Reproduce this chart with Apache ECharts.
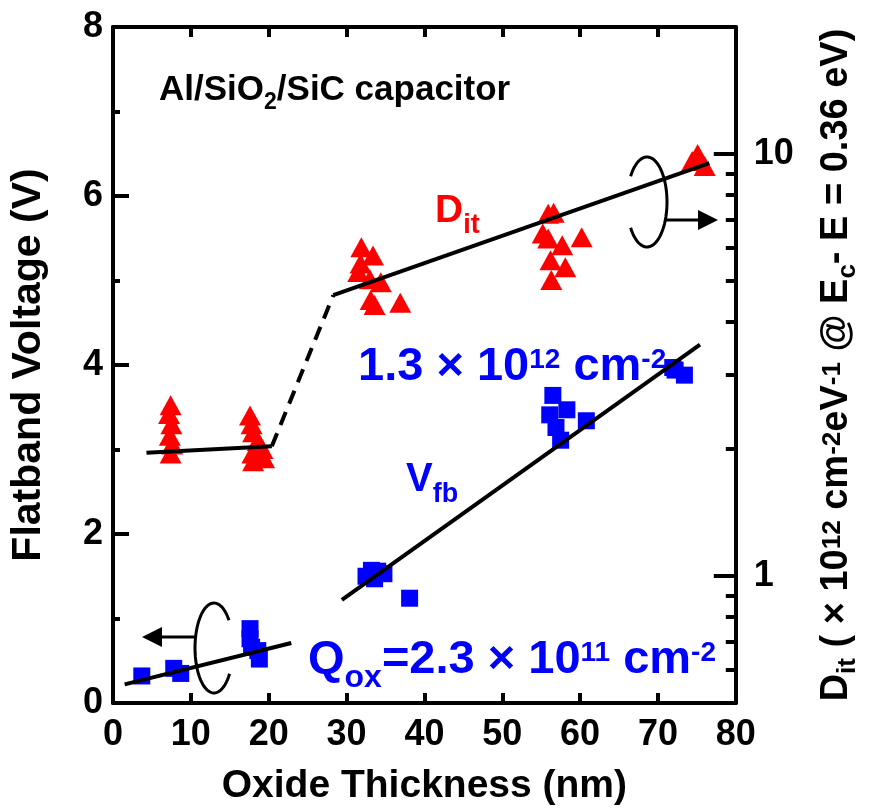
<!DOCTYPE html>
<html>
<head>
<meta charset="utf-8">
<script src="https://cdn.jsdelivr.net/npm/echarts@6/dist/echarts.min.js"></script>
<style>
  html, body { margin: 0; padding: 0; background: #fff; }
  #chart { width: 869px; height: 811px; }
</style>
</head>
<body>
<div id="chart"></div>
<script>
// Oxide thickness (nm) and interface-state density D_it (x1e12 cm^-2 eV^-1)
const ditThickness = [7.4, 7.2, 7.5, 7.3, 7.6, 7.4,
  17.6, 17.8, 18.0, 18.6, 19.2, 17.9, 19.4, 18.0,
  31.9, 33.4, 31.5, 34.4, 33.1, 33.6, 36.9, 31.8, 33.0,
  55.9, 56.6, 55.2, 55.9, 57.7, 60.2, 56.2, 58.1, 56.3,
  75.1, 74.4, 76.0];
const ditValues = [2.54, 2.42, 2.29, 2.15, 2.05, 1.95,
  2.40, 2.29, 2.19, 2.09, 2.00, 1.95, 1.90, 1.87,
  6.01, 5.75, 5.25, 4.97, 4.51, 4.39, 4.44, 5.50, 5.05,
  7.22, 7.26, 6.48, 6.31, 6.08, 6.35, 5.60, 5.39, 5.03,
  10.0, 9.63, 9.37];

// Oxide thickness (nm) and flatband voltage (V)
const vfbThickness = [3.7, 7.8, 8.7,
  17.6, 17.6, 17.8, 18.6, 18.8,
  32.5, 33.2, 34.0, 34.8, 33.6, 38.1,
  56.5, 56.1, 58.3, 60.8, 57.5, 56.9,
  72.2, 73.4, 71.9];
const vfbValues = [0.32, 0.41, 0.35,
  0.88, 0.76, 0.66, 0.62, 0.52,
  1.50, 1.57, 1.56, 1.53, 1.47, 1.24,
  3.64, 3.41, 3.47, 3.34, 3.11, 3.26,
  3.94, 3.88, 3.97];

// Fitted trend lines (end points)
const ditFitThinX = [4.3, 20.4];
const ditFitThinY = [1.96, 2.03];
const ditFitBridgeX = [20.4, 28.3];
const ditFitBridgeY = [2.03, 4.63];
const ditFitThickX = [28.3, 76.6];
const ditFitThickY = [4.63, 9.52];
const vfbFitThinX = [1.5, 22.9];
const vfbFitThinY = [0.22, 0.71];
const vfbFitThickX = [29.4, 75.4];
const vfbFitThickY = [1.22, 4.24];

// Axis ticks
const xTickInterval = 10;
const vfbTickInterval = 2;
const ditMajorTicks = [1, 10];
const ditMinorTicks = [0.6, 0.7, 0.8, 0.9, 2, 3, 4, 5, 6, 7, 8, 9];

const FONT = '"Liberation Sans", Arial, Helvetica, sans-serif';
const RED = '#ff0000';
const BLUE = '#0000ff';

const pairs = (xs, ys) => xs.map((x, i) => [x, ys[i]]);

// Rich-text styles: tokens are top-aligned, top padding shifts sub/superscripts.
// colorKey is 'fill' for graphic elements and 'color' for axis names.
function richSet(F, color, colorKey, subSize, subDrop, supSize) {
  const base = { fontFamily: FONT, fontWeight: 'bold', verticalAlign: 'top' };
  base[colorKey] = color;
  return {
    n: Object.assign({}, base, { fontSize: F }),
    sub: Object.assign({}, base, { fontSize: subSize,
      padding: [0.85 * (F - subSize) + subDrop, 0, 0, 0] }),
    sup: Object.assign({}, base, { fontSize: supSize,
      padding: [0.134 * (F - supSize), 0, 0, 0] })
  };
}

const chart = echarts.init(document.getElementById('chart'), null, { renderer: 'canvas' });

const axisLine = { show: true, onZero: false, lineStyle: { color: '#000', width: 4 } };
const labelStyle = { color: '#000', fontFamily: FONT, fontWeight: 'bold', fontSize: 36 };
const nameStyle = { color: '#000', fontFamily: FONT, fontWeight: 'bold', fontSize: 40 };

function ellipsePoints(cx, cy, rx, ry, a0, a1) {
  const pts = [];
  for (let k = 0; k <= 60; k++) {
    const a = (a0 + (a1 - a0) * k / 60) * Math.PI / 180;
    pts.push([cx + rx * Math.cos(a), cy + ry * Math.sin(a)]);
  }
  return pts;
}

const option = {
  animation: false,
  backgroundColor: '#fff',
  grid: { left: 110, right: 114, top: 27, bottom: 104, containLabel: false },
  xAxis: [
    {
      type: 'value', min: 0, max: 80, interval: xTickInterval, position: 'bottom',
      axisLine: axisLine,
      axisTick: { show: true, inside: true, length: 10, lineStyle: { color: '#000', width: 4 } },
      axisLabel: Object.assign({ margin: 14 }, labelStyle),
      splitLine: { show: false },
      name: 'Oxide Thickness (nm)', nameLocation: 'middle', nameGap: 64,
      nameTextStyle: Object.assign({}, nameStyle, { fontSize: 39 })
    },
    {
      type: 'value', min: 0, max: 80, interval: xTickInterval, position: 'top',
      axisLine: axisLine,
      axisTick: { show: true, inside: true, length: 10, lineStyle: { color: '#000', width: 4 } },
      axisLabel: { show: false },
      splitLine: { show: false }
    }
  ],
  yAxis: [
    {
      type: 'value', min: 0, max: 8, interval: vfbTickInterval, position: 'left',
      axisLine: axisLine,
      axisTick: { show: true, inside: true, length: 16, lineStyle: { color: '#000', width: 4 } },
      minorTick: { show: true, splitNumber: 2, length: 7, lineStyle: { color: '#000', width: 4 } },
      axisLabel: Object.assign({ margin: 10 }, labelStyle),
      splitLine: { show: false },
      name: 'Flatband Voltage (V)', nameLocation: 'middle', nameRotate: 90, nameGap: 64,
      nameTextStyle: Object.assign({}, nameStyle, { fontSize: 41 })
    },
    {
      type: 'log', logBase: 10, min: 0.5, max: 20, position: 'right',
      axisLine: axisLine,
      axisTick: { show: true, inside: true, length: 22, customValues: ditMajorTicks,
        lineStyle: { color: '#000', width: 4 } },
      axisLabel: Object.assign({ margin: 18, customValues: ditMajorTicks }, labelStyle),
      splitLine: { show: false },
      name: '{n|D}{sub|it}{n| ( × 10}{sup|12}{n| cm}{sup|-2}{n|eV}{sup|-1}{n| @ E}{sub|c}{n|- E = 0.36 eV)}',
      nameLocation: 'middle', nameRotate: 90, nameGap: 82,
      nameTextStyle: { rich: richSet(38, '#000', 'color', 26, 7, 26) }
    },
    {
      type: 'log', logBase: 10, min: 0.5, max: 20, position: 'right',
      axisLine: { show: false, onZero: false },
      axisTick: { show: true, inside: true, length: 10, customValues: ditMinorTicks,
        lineStyle: { color: '#000', width: 4 } },
      axisLabel: { show: false },
      splitLine: { show: false }
    }
  ],
  series: [
    {
      name: 'Dit', type: 'scatter', xAxisIndex: 0, yAxisIndex: 1,
      symbol: 'triangle', symbolSize: [22, 20],
      itemStyle: { color: RED, opacity: 1 },
      data: pairs(ditThickness, ditValues), z: 2
    },
    {
      name: 'Vfb', type: 'scatter', xAxisIndex: 0, yAxisIndex: 0,
      symbol: 'rect', symbolSize: 17,
      itemStyle: { color: BLUE, opacity: 1 },
      data: pairs(vfbThickness, vfbValues), z: 2
    },
    {
      type: 'line', xAxisIndex: 0, yAxisIndex: 1, showSymbol: false, symbol: 'none',
      lineStyle: { color: '#000', width: 4 }, data: pairs(ditFitThinX, ditFitThinY), z: 5
    },
    {
      type: 'line', xAxisIndex: 0, yAxisIndex: 1, showSymbol: false, symbol: 'none',
      lineStyle: { color: '#000', width: 4, type: [14, 9] }, data: pairs(ditFitBridgeX, ditFitBridgeY), z: 5
    },
    {
      type: 'line', xAxisIndex: 0, yAxisIndex: 1, showSymbol: false, symbol: 'none',
      lineStyle: { color: '#000', width: 4 }, data: pairs(ditFitThickX, ditFitThickY), z: 5
    },
    {
      type: 'line', xAxisIndex: 0, yAxisIndex: 0, showSymbol: false, symbol: 'none',
      lineStyle: { color: '#000', width: 4 }, data: pairs(vfbFitThinX, vfbFitThinY), z: 5
    },
    {
      type: 'line', xAxisIndex: 0, yAxisIndex: 0, showSymbol: false, symbol: 'none',
      lineStyle: { color: '#000', width: 4 }, data: pairs(vfbFitThickX, vfbFitThickY), z: 5
    }
  ],
  graphic: [
    // sample label
    { type: 'text', x: 159, y: 73, z: 10,
      style: { text: '{n|Al/SiO}{sub|2}{n|/SiC capacitor}', rich: richSet(35, '#000', 'fill', 23, 8, 23) } },
    // D_it label
    { type: 'text', x: 435, y: 192, z: 10,
      style: { text: '{n|D}{sub|it}', rich: richSet(39, RED, 'fill', 27, 10, 27) } },
    // V_fb label
    { type: 'text', x: 406, y: 460, z: 10,
      style: { text: '{n|V}{sub|fb}', rich: richSet(40, BLUE, 'fill', 27, 10, 27) } },
    // slope of the V_fb trend
    { type: 'text', x: 358, y: 344, z: 10,
      style: { text: '{n|1.3 × 10}{sup|12}{n| cm}{sup|-2}', rich: richSet(47, BLUE, 'fill', 32, 12, 28) } },
    // oxide charge
    { type: 'text', x: 308, y: 637, z: 10,
      style: { text: '{n|Q}{sub|ox}{n|=2.3 × 10}{sup|11}{n| cm}{sup|-2}', rich: richSet(47, BLUE, 'fill', 32, 12, 28) } },
    // left-pointing axis marker
    { type: 'polyline', z: 10, shape: { points: ellipsePoints(214, 648, 19, 45, 35, 322) },
      style: { stroke: '#000', lineWidth: 3, fill: null } },
    { type: 'line', z: 10, shape: { x1: 195, y1: 637, x2: 158, y2: 637 },
      style: { stroke: '#000', lineWidth: 3 } },
    { type: 'polygon', z: 10, shape: { points: [[142, 637], [162, 627], [162, 647]] },
      style: { fill: '#000' } },
    // right-pointing axis marker
    { type: 'polyline', z: 10, shape: { points: ellipsePoints(647, 202, 20, 45, -145, 145) },
      style: { stroke: '#000', lineWidth: 3, fill: null } },
    { type: 'line', z: 10, shape: { x1: 666, y1: 220, x2: 702, y2: 220 },
      style: { stroke: '#000', lineWidth: 3 } },
    { type: 'polygon', z: 10, shape: { points: [[718, 220], [698, 210], [698, 230]] },
      style: { fill: '#000' } }
  ]
};

chart.setOption(option);
</script>
</body>
</html>
